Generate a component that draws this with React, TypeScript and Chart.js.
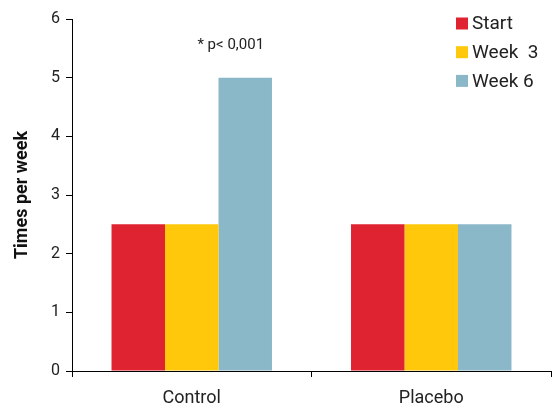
import React, { useEffect, useRef } from "react";
import { Chart, registerables } from "chart.js";

Chart.register(...registerables);

const categories = ["Control", "Placebo"];
const seriesNames = ["Start", "Week  3", "Week 6"];
const startValues = [2.5, 2.5];
const week3Values = [2.5, 2.5];
const week6Values = [5, 2.5];
const seriesColors = ["#E02330", "#FFC80A", "#8AB8C8"];
const yTicks = [0, 1, 2, 3, 4, 5, 6];
const annotationText = "* p< 0,001";
const yTitle = "Times per week";

const FONT = "Roboto, 'Noto Sans', sans-serif";

const overlayPlugin = {
  id: "overlay",
  afterDraw(chart: any) {
    const ctx = chart.ctx;
    const area = chart.chartArea;
    const xs = chart.scales.x;
    const ys = chart.scales.y;
    ctx.save();
    // annotation above Control bars
    ctx.fillStyle = "#222";
    ctx.font = `15px ${FONT}`;
    ctx.textAlign = "center";
    ctx.textBaseline = "middle";
    const cx = xs.getPixelForValue(0);
    ctx.fillText(annotationText, cx + 39, ys.getPixelForValue(5.55));
    // legend
    ctx.font = `19px ${FONT}`;
    ctx.textAlign = "left";
    const lx = area.right - 95;
    const ly = area.top + 4.5;
    seriesNames.forEach((n, i) => {
      const y = ly + i * 28.7;
      ctx.fillStyle = seriesColors[i];
      ctx.fillRect(lx, y - 6, 12, 12);
      ctx.fillStyle = "#222";
      ctx.fillText(n, lx + 16, y + 1);
    });
    ctx.restore();
  },
};

export default function App() {
  const ref = useRef<HTMLCanvasElement>(null);
  useEffect(() => {
    if (!ref.current) return;
    const data = [startValues, week3Values, week6Values];
    const chart = new Chart(ref.current, {
      type: "bar",
      data: {
        labels: categories,
        datasets: seriesNames.map((n, i) => ({
          label: n,
          data: data[i],
          backgroundColor: seriesColors[i],
          borderWidth: 0,
          categoryPercentage: 0.67,
          barPercentage: 1,
        })),
      },
      options: {
        animation: false,
        responsive: false,
        maintainAspectRatio: false,
        layout: { padding: { top: 19, right: 1, left: 0, bottom: 0 } },
        plugins: { legend: { display: false }, tooltip: { enabled: false } },
        scales: {
          x: {
            offset: true,
            afterFit: (s: any) => {
              s.height = 36;
            },
            grid: {
              offset: true,
              drawOnChartArea: false,
              drawTicks: true,
              tickLength: 6,
              color: "#000",
            },
            border: { color: "#000", width: 1 },
            ticks: { color: "#222", font: { family: FONT, size: 18 }, padding: 11 },
          },
          y: {
            min: 0,
            max: 6,
            afterFit: (s: any) => {
              s.width = 72;
            },
            afterBuildTicks: (s: any) => {
              s.ticks = yTicks.map((v) => ({ value: v }));
            },
            grid: { drawOnChartArea: false, drawTicks: true, tickLength: 6, color: "#000" },
            border: { color: "#000", width: 1 },
            ticks: { color: "#222", font: { family: FONT, size: 16 }, padding: 6 },
            title: {
              display: true,
              text: yTitle,
              color: "#111",
              font: { family: FONT, size: 18, weight: "bold" },
              padding: { top: 12, bottom: 0 },
            },
          },
        },
      },
      plugins: [overlayPlugin],
    } as any);
    return () => chart.destroy();
  }, []);
  return (
    <div style={{ position: "fixed", left: 0, top: 0, width: 552, height: 407, background: "#fff" }}>
      <canvas ref={ref} width={552} height={407} style={{ width: 552, height: 407 }} />
    </div>
  );
}
